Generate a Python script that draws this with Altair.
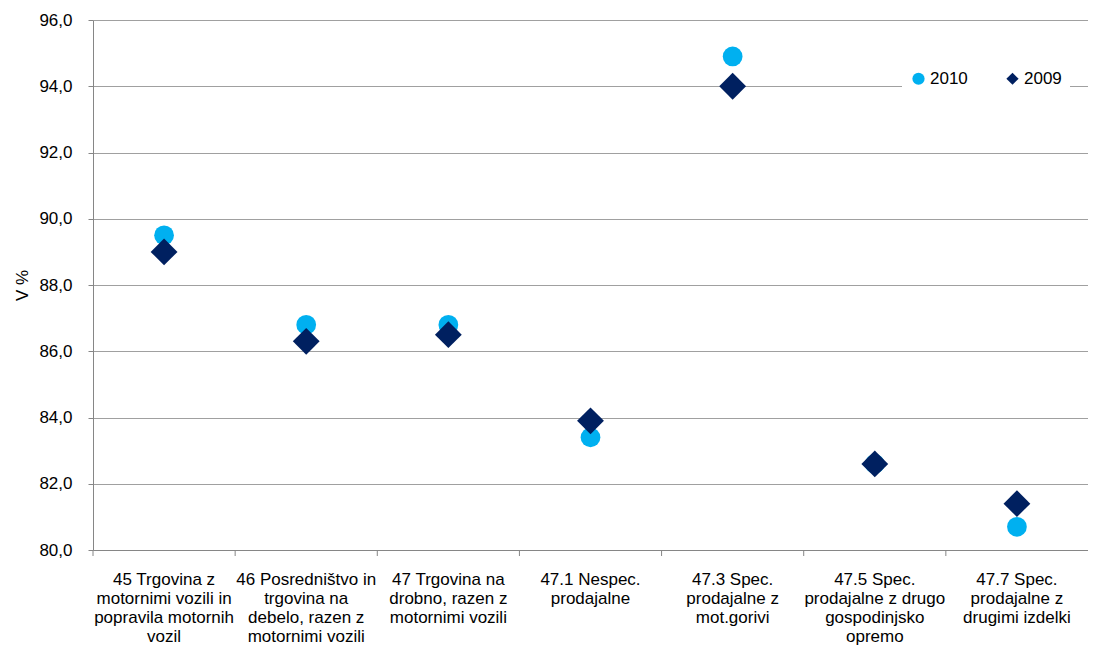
import altair as alt
import pandas as pd

categories = ["45", "46", "47", "47.1", "47.3", "47.5", "47.7"]
labels = [
    "45 Trgovina z|motornimi vozili in|popravila motornih|vozil",
    "46 Posredništvo in|trgovina na|debelo, razen z|motornimi vozili",
    "47 Trgovina na|drobno, razen z|motornimi vozili",
    "47.1 Nespec.|prodajalne",
    "47.3 Spec.|prodajalne z|mot.gorivi",
    "47.5 Spec.|prodajalne z drugo|gospodinjsko|opremo",
    "47.7 Spec.|prodajalne z|drugimi izdelki",
]
values_2010 = [89.5, 86.8, 86.8, 83.4, 94.9, 82.6, 80.7]
values_2009 = [89.0, 86.3, 86.5, 83.9, 94.0, 82.6, 81.4]
years = ["2010", "2009"]

df10 = pd.DataFrame({"cat": labels, "year": "2010", "value": values_2010})
df09 = pd.DataFrame({"cat": labels, "year": "2009", "value": values_2009})
ticks_df = pd.DataFrame({"cat": labels})

FONT = "Liberation Sans"
W, H = 995, 530

xscale = alt.Scale(domain=labels, paddingInner=0, paddingOuter=0)
yscale = alt.Scale(domain=[80, 96], nice=False, zero=False)
cscale = alt.Scale(domain=years, range=["#00B0F0", "#002060"])
sscale = alt.Scale(domain=years, range=["circle", "diamond"])

x_enc = alt.X("cat:N", scale=xscale, sort=labels, title=None,
              axis=alt.Axis(labelExpr="split(datum.label, '|')", labelAngle=0,
                            ticks=False, labelPadding=21, labelFontSize=17,
                            labelLineHeight=19, labelColor="#000000",
                            domainColor="#868686", labelFont=FONT,
                            labelBaseline="top", labelLimit=200))
y_enc = alt.Y("value:Q", scale=yscale, title="V %",
              axis=alt.Axis(values=[80, 82, 84, 86, 88, 90, 92, 94, 96],
                            labelExpr="replace(format(datum.value, '.1f'), '.', ',')",
                            labelFontSize=17, labelColor="#000000", labelFont=FONT,
                            labelPadding=16, tickSize=5, tickColor="#868686",
                            domainColor="#868686", gridColor="#A0A0A0",
                            titleFont=FONT, titleFontSize=17, titleFontWeight="normal",
                            titleColor="#000000", titlePadding=7))
legend = alt.Legend(orient="none", legendX=809, legendY=42,
                    direction="horizontal", fillColor="white",
                    padding=8, labelFont=FONT, labelFontSize=17,
                    labelColor="#000000", columnPadding=36,
                    symbolSize=150, labelOffset=3)
c_enc = alt.Color("year:N", scale=cscale, title=None, legend=legend)
s_enc = alt.Shape("year:N", scale=sscale, title=None, legend=legend)

p10 = alt.Chart(df10).mark_point(filled=True, opacity=1, size=390).encode(
    x=x_enc, y=y_enc, color=c_enc, shape=s_enc)
p09 = alt.Chart(df09).mark_point(filled=True, opacity=1, size=720).encode(
    x=x_enc, y=y_enc, color=c_enc, shape=s_enc)

xticks = alt.Chart(ticks_df).mark_rule(color="#868686", strokeWidth=1).encode(
    x=alt.X("cat:N", scale=xscale, sort=labels, bandPosition=0),
    y=alt.value(H),
    y2=alt.value(H + 6),
)

chart = alt.layer(p10, p09, xticks).properties(
    width=W, height=H,
    autosize=alt.AutoSizeParams(type="none"),
    padding={"left": 85, "top": 12, "right": 0, "bottom": 100},
).configure_view(stroke=None).configure_axis(grid=True).configure_axisX(grid=False)

chart.save("out.html", embed_options={"renderer": "svg", "actions": False})
